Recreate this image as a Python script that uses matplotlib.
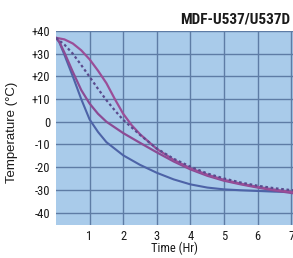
import matplotlib
matplotlib.use("Agg")
import matplotlib.pyplot as plt
from matplotlib import font_manager

names = {f.name for f in font_manager.fontManager.ttflist}
FONT = "Liberation Sans"
for cand in ["Roboto Condensed", "Liberation Sans Narrow", "Open Sans Condensed", "DejaVu Sans Condensed"]:
    if cand in names:
        FONT = cand
        break
plt.rcParams['font.family'] = [FONT, 'DejaVu Sans']

# Data
title = "MDF-U537/U537D"
xticks = [1, 2, 3, 4, 5, 6, 7]
yticks = [40, 30, 20, 10, 0, -10, -20, -30, -40]
ytick_labels = ["+40", "+30", "+20", "+10", "0", "-10", "-20", "-30", "-40"]

blue_t = [0, 0.1, 0.25, 0.5, 0.75, 1.0, 1.25, 1.5, 2.0, 2.5, 3.0, 3.5, 4.0, 4.5, 5.0, 5.5, 6.0, 6.5, 7.05]
blue_T = [37, 35, 29.5, 20, 10, 1, -4.5, -9, -14.8, -19, -22.5, -25.4, -27.6, -29, -29.8, -30.2, -30.5, -30.8, -31]

low_t = [0, 0.1, 0.25, 0.5, 0.75, 1.0, 1.25, 1.5, 1.75, 2.0, 2.5, 3.0, 3.5, 4.0, 4.5, 5.0, 5.5, 6.0, 6.5, 7.05]
low_T = [37, 35.2, 30.5, 22, 14, 8, 3.5, 0, -2.5, -5, -9.3, -13.5, -17.5, -21, -23.8, -26, -27.6, -29, -30.3, -31.5]

up_t = [0, 0.25, 0.5, 0.75, 1.0, 1.25, 1.5, 1.75, 2.0, 2.25, 2.5, 3.0, 3.5, 4.0, 4.5, 5.0, 5.5, 6.0, 6.5, 7.05]
up_T = [37, 36.3, 34.5, 31.5, 27.5, 22.5, 17, 10, 3.5, -1.5, -5.5, -12, -16.8, -20.5, -23.3, -25.6, -27.3, -28.7, -29.9, -31]

dash_t = [0, 0.25, 0.5, 0.75, 1.0, 1.25, 1.5, 1.75, 2.0, 2.5, 3.0, 3.5, 4.0, 4.5, 5.0, 5.5, 6.0, 6.5, 7.05]
dash_T = [37, 34, 30, 25, 19.8, 14.5, 9.5, 5, 0.8, -5.8, -11.8, -16.3, -19.8, -22.8, -25, -26.8, -28.2, -29.3, -30.2]

fig = plt.figure(figsize=(2.93, 2.58), dpi=100)
fig.patch.set_facecolor("white")
ax = fig.add_axes([56/293, 33/258, 237/293, 194/258])
ax.set_facecolor("#a9cbea")
ax.set_xlim(0, 7.05)
ax.set_ylim(-45.5, 40)

ax.set_xticks(xticks)
ax.set_xticklabels([str(v) for v in xticks])
ax.set_yticks(yticks)
ax.set_yticklabels(ytick_labels)
ax.tick_params(length=0, labelsize=9, colors="#1a1a1a")
ax.tick_params(axis="y", pad=4)
ax.tick_params(axis="x", pad=3.5)
ax.grid(True, color="#5e7ca5", linewidth=1.0)
ax.set_axisbelow(True)
for s in ax.spines.values():
    s.set_visible(False)

ax.plot(blue_t, blue_T, color="#4d63a7", lw=1.5, solid_capstyle="round")
ax.plot(low_t, low_T, color="#8c4b94", lw=1.6, solid_capstyle="round")
ax.plot(up_t, up_T, color="#9b4e98", lw=1.6, solid_capstyle="round")
ax.plot(dash_t, dash_T, color="#5a4b8e", lw=1.6, linestyle=(0, (1.2, 1.2)))

ax.set_xlabel("Time (Hr)", fontsize=9, labelpad=-1, color="#1a1a1a")
fig.text(12/293, 1 - 132/258, "Temperature (°C)", rotation=90, ha="center", va="center",
         fontsize=9.5, color="#1a1a1a", family=["Liberation Sans", "DejaVu Sans"])
fig.text(290/293, 1 - 19/258, title, ha="right", va="center", fontsize=11,
         fontweight="bold", color="#1a1a1a")

fig.savefig("out.png", dpi=100)
